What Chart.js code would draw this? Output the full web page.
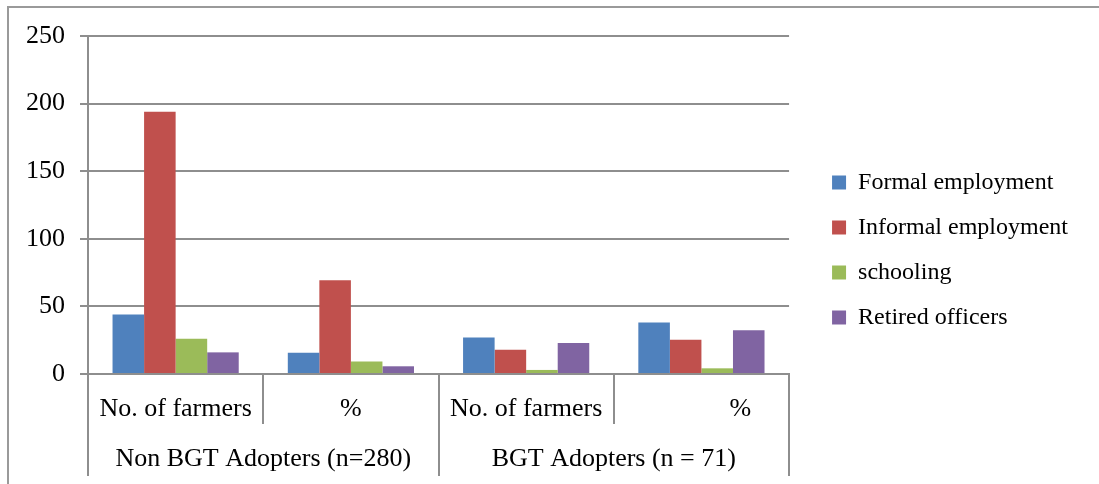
<!DOCTYPE html>
<html>
<head>
<meta charset="utf-8">
<script src="https://cdn.jsdelivr.net/npm/chart.js@4"></script>
<style>
  body { margin: 0; background: #fff; overflow: hidden; }
  #frame { position: absolute; left: 7px; top: 6px; width: 1092px; height: 478px; box-sizing: border-box; border-top: 2px solid #9a9a9a; border-left: 2px solid #9a9a9a; }
  #wrap { position: absolute; left: 0; top: 0; width: 1099px; height: 484px; }
</style>
</head>
<body>
<div id="frame"></div>
<div id="wrap"><canvas id="chart"></canvas></div>
<script>
const categories = ["No. of farmers", "%", "No. of farmers", "            %"];
const groups = ["Non BGT Adopters (n=280)", "BGT Adopters (n = 71)"];

const formal = [44, 15.7, 27, 38.0];
const informal = [194, 69.3, 18, 25.4];
const schooling = [26, 9.3, 3, 4.2];
const retired = [16, 5.7, 23, 32.4];

const lineColor = "#8e8e8e";

Chart.defaults.font.family = "'Liberation Serif', 'Times New Roman', serif";
Chart.defaults.font.size = 26;
Chart.defaults.color = "#000";

const ctx = document.getElementById("chart");

new Chart(ctx, {
    type: "bar",
    data: {
        labels: categories,
        datasets: [
            { label: "Formal employment", data: formal, backgroundColor: "#4f81bd" },
            { label: "Informal employment", data: informal, backgroundColor: "#c0504d" },
            { label: "schooling", data: schooling, backgroundColor: "#9bbb59" },
            { label: "Retired officers", data: retired, backgroundColor: "#8064a2" }
        ]
    },
    options: {
        animation: false,
        responsive: true,
        maintainAspectRatio: false,
        layout: { padding: { top: 16, right: 21, bottom: 0, left: 0 } },
        datasets: { bar: { categoryPercentage: 0.72, barPercentage: 1, borderWidth: 0 } },
        plugins: {
            legend: {
                position: "right",
                labels: { boxWidth: 14, boxHeight: 14, padding: 21, color: "#000", font: { size: 24 } }
            },
            tooltip: { enabled: false }
        },
        scales: {
            x: {
                type: "category",
                offset: true,
                grid: { offset: true, drawOnChartArea: false, tickLength: 50, color: lineColor, lineWidth: 2 },
                border: { color: lineColor, width: 2 },
                ticks: { padding: -30, maxRotation: 0, autoSkip: false },
                afterFit: s => { s.height = 50; }
            },
            x2: {
                type: "category",
                position: "bottom",
                labels: groups,
                offset: true,
                grid: { offset: true, drawOnChartArea: false, tickLength: 52, color: lineColor, lineWidth: 2 },
                border: { display: false },
                ticks: { padding: -32, maxRotation: 0, autoSkip: false },
                afterFit: s => { s.height = 60; }
            },
            y: {
                min: 0,
                max: 250,
                ticks: { stepSize: 50, padding: 15 },
                grid: { color: lineColor, lineWidth: 2, tickLength: 8 },
                border: { color: lineColor, width: 2 },
                afterFit: s => { s.width = 88; }
            },
            // hidden spacers: room above the plot and between plot and legend
            topGap: {
                type: "category",
                position: "top",
                display: false,
                afterFit: s => { s.height = 20; }
            },
            rightGap: {
                type: "linear",
                position: "right",
                display: false,
                afterFit: s => { s.width = 22; }
            }
        }
    }
});
</script>
</body>
</html>
